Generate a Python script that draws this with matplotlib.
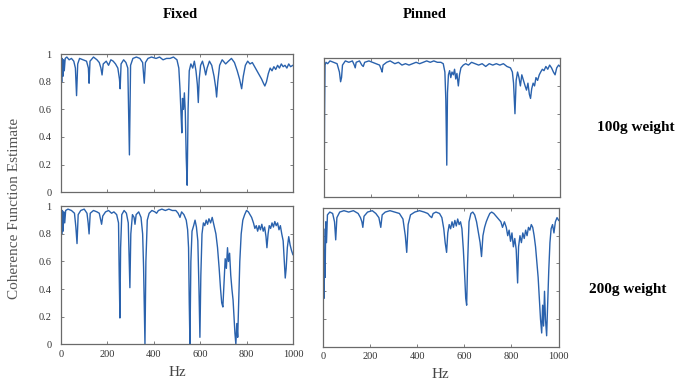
import matplotlib
matplotlib.use("Agg")
import matplotlib.pyplot as plt

plt.rcParams['font.family'] = ['Liberation Serif', 'DejaVu Serif']

# coherence estimates (frequency in Hz, coherence) for each support / load case
fixed_100_hz = [0, 3, 5, 8, 11, 14, 18, 25, 35, 45, 55, 62, 67, 72, 80, 95, 110, 118, 121, 125,
                140, 155, 165, 172, 177, 182, 195, 205, 215, 225, 235, 245, 252, 255, 259, 270,
                280, 288, 295, 300, 310, 325, 340, 352, 359, 364, 375, 390, 410, 425, 440, 455,
                470, 485, 500, 508, 513, 518, 521, 524, 528, 532, 536, 540, 544, 548, 553, 560,
                568, 575, 582, 588, 592, 596, 602, 610, 618, 624, 630, 640, 650, 660, 667, 671,
                676, 684, 695, 710, 722, 735, 748, 760, 770, 779, 786, 795, 805, 815, 825, 835,
                845, 855, 865, 873, 879, 886, 894, 902, 910, 918, 926, 934, 942, 950, 958, 966,
                974, 982, 990, 1000]
fixed_100_coh = [0.93, 0.80, 0.97, 0.84, 0.96, 0.88, 0.97, 0.98, 0.96, 0.97, 0.95, 0.90, 0.70, 0.93,
                 0.97, 0.96, 0.95, 0.90, 0.79, 0.95, 0.98, 0.96, 0.94, 0.90, 0.85, 0.93, 0.95, 0.92,
                 0.96, 0.95, 0.93, 0.90, 0.82, 0.75, 0.93, 0.96, 0.94, 0.90, 0.27, 0.92, 0.97, 0.98,
                 0.97, 0.94, 0.79, 0.94, 0.97, 0.98, 0.97, 0.98, 0.96, 0.97, 0.97, 0.98, 0.96, 0.90,
                 0.75, 0.55, 0.43, 0.68, 0.60, 0.72, 0.58, 0.25, 0.05, 0.60, 0.88, 0.93, 0.90, 0.95,
                 0.88, 0.78, 0.65, 0.82, 0.92, 0.95, 0.90, 0.85, 0.90, 0.95, 0.92, 0.84, 0.76, 0.69,
                 0.80, 0.92, 0.96, 0.93, 0.95, 0.97, 0.94, 0.88, 0.82, 0.75, 0.84, 0.92, 0.95, 0.93,
                 0.94, 0.91, 0.88, 0.85, 0.82, 0.79, 0.77, 0.80, 0.86, 0.90, 0.88, 0.91, 0.89, 0.92,
                 0.90, 0.93, 0.91, 0.92, 0.90, 0.93, 0.91, 0.92]

pinned_100_hz = [0, 2, 4, 8, 15, 25, 40, 55, 65, 70, 74, 78, 90, 105, 120, 128, 132, 136, 150, 160,
                 166, 172, 190, 205, 220, 235, 242, 246, 250, 265, 280, 300, 315, 330, 345, 360,
                 375, 390, 405, 420, 435, 450, 465, 480, 495, 505, 512, 516, 520, 523, 527, 532,
                 537, 542, 548, 553, 558, 563, 569, 574, 580, 590, 600, 612, 625, 640, 655, 670,
                 685, 700, 715, 730, 745, 760, 775, 790, 798, 803, 809, 814, 820, 826, 832, 838,
                 845, 852, 858, 864, 870, 875, 880, 886, 892, 898, 905, 912, 918, 925, 932, 940,
                 948, 956, 964, 972, 979, 986, 994, 1000]
pinned_100_coh = [0.02, 0.60, 0.95, 0.97, 0.96, 0.98, 0.97, 0.96, 0.90, 0.83, 0.86, 0.95, 0.98,
                  0.97, 0.98, 0.95, 0.93, 0.97, 0.98, 0.95, 0.94, 0.97, 0.98, 0.97, 0.96, 0.95,
                  0.92, 0.90, 0.95, 0.97, 0.98, 0.96, 0.97, 0.95, 0.96, 0.95, 0.96, 0.97, 0.96,
                  0.97, 0.98, 0.97, 0.98, 0.97, 0.97, 0.96, 0.90, 0.70, 0.23, 0.75, 0.88, 0.91,
                  0.86, 0.90, 0.88, 0.92, 0.85, 0.89, 0.80, 0.88, 0.93, 0.95, 0.96, 0.95, 0.97,
                  0.96, 0.95, 0.96, 0.94, 0.96, 0.95, 0.96, 0.95, 0.96, 0.94, 0.93, 0.90, 0.82,
                  0.60, 0.84, 0.90, 0.86, 0.80, 0.88, 0.84, 0.80, 0.77, 0.82, 0.74, 0.71, 0.78,
                  0.82, 0.80, 0.86, 0.84, 0.88, 0.90, 0.92, 0.91, 0.94, 0.92, 0.95, 0.93, 0.90,
                  0.88, 0.93, 0.95, 0.94]

fixed_200_hz = [0, 3, 6, 9, 12, 16, 20, 30, 45, 58, 64, 69, 74, 85, 100, 112, 117, 121, 126, 140,
                155, 165, 171, 175, 180, 192, 205, 218, 228, 240, 248, 251, 254, 257, 262, 272,
                282, 290, 294, 297, 301, 308, 315, 319, 324, 335, 345, 352, 356, 360, 362, 366,
                372, 380, 392, 405, 412, 420, 435, 450, 465, 480, 495, 505, 513, 520, 530, 540,
                546, 550, 553, 556, 560, 565, 572, 578, 584, 590, 595, 599, 603, 608, 614, 620,
                626, 632, 638, 645, 652, 660, 668, 675, 682, 688, 693, 698, 703, 708, 713, 718,
                722, 727, 732, 737, 742, 746, 750, 754, 758, 762, 766, 771, 777, 784, 792, 800,
                808, 815, 822, 830, 836, 842, 848, 854, 860, 866, 872, 878, 884, 888, 893, 898,
                904, 910, 916, 922, 928, 934, 940, 946, 952, 958, 963, 967, 971, 976, 982, 988,
                994, 1000]
fixed_200_coh = [0.95, 0.80, 0.97, 0.82, 0.96, 0.88, 0.97, 0.98, 0.97, 0.95, 0.85, 0.73, 0.94,
                 0.97, 0.98, 0.95, 0.88, 0.80, 0.95, 0.97, 0.96, 0.95, 0.90, 0.87, 0.93, 0.96,
                 0.97, 0.95, 0.96, 0.94, 0.88, 0.50, 0.19, 0.70, 0.94, 0.97, 0.95, 0.88, 0.60,
                 0.41, 0.80, 0.94, 0.92, 0.87, 0.94, 0.96, 0.92, 0.80, 0.56, 0.20, 0.00, 0.60,
                 0.90, 0.95, 0.97, 0.96, 0.95, 0.97, 0.98, 0.97, 0.98, 0.97, 0.97, 0.95, 0.92,
                 0.96, 0.94, 0.90, 0.83, 0.70, 0.30, 0.00, 0.60, 0.82, 0.86, 0.90, 0.85, 0.75,
                 0.40, 0.05, 0.50, 0.80, 0.88, 0.86, 0.90, 0.87, 0.91, 0.88, 0.92, 0.86, 0.80,
                 0.70, 0.55, 0.40, 0.30, 0.27, 0.45, 0.62, 0.55, 0.70, 0.60, 0.66, 0.50, 0.40,
                 0.32, 0.20, 0.08, 0.00, 0.15, 0.05, 0.30, 0.60, 0.80, 0.90, 0.94, 0.97, 0.96,
                 0.94, 0.92, 0.88, 0.84, 0.86, 0.82, 0.86, 0.83, 0.87, 0.82, 0.85, 0.78, 0.70,
                 0.80, 0.86, 0.84, 0.88, 0.85, 0.89, 0.86, 0.88, 0.83, 0.86, 0.80, 0.75, 0.60,
                 0.48, 0.55, 0.70, 0.78, 0.72, 0.68, 0.65]

pinned_200_hz = [0, 2, 4, 6, 8, 10, 13, 16, 20, 30, 42, 50, 55, 60, 72, 90, 110, 130, 150, 160,
                 166, 170, 175, 190, 210, 225, 238, 246, 252, 265, 285, 305, 325, 340, 350, 356,
                 362, 372, 390, 410, 430, 445, 455, 462, 468, 480, 495, 505, 513, 519, 525, 530,
                 536, 542, 548, 554, 560, 566, 572, 578, 584, 590, 596, 602, 606, 610, 614, 620,
                 628, 636, 644, 652, 660, 667, 673, 679, 686, 693, 700, 708, 716, 725, 735, 745,
                 755, 762, 770, 778, 784, 790, 796, 802, 808, 814, 820, 826, 830, 836, 842, 848,
                 854, 860, 866, 872, 878, 884, 890, 896, 902, 908, 913, 918, 923, 928, 932, 936,
                 940, 944, 949, 953, 958, 963, 968, 974, 980, 986, 993, 1000]
pinned_200_coh = [0.90, 0.40, 0.85, 0.35, 0.70, 0.50, 0.90, 0.75, 0.95, 0.97, 0.96, 0.90, 0.77,
                  0.93, 0.97, 0.98, 0.97, 0.98, 0.96, 0.93, 0.90, 0.86, 0.94, 0.97, 0.98, 0.96,
                  0.93, 0.86, 0.95, 0.97, 0.98, 0.97, 0.96, 0.92, 0.80, 0.68, 0.88, 0.95, 0.97,
                  0.98, 0.97, 0.96, 0.94, 0.93, 0.96, 0.97, 0.96, 0.93, 0.85, 0.75, 0.68, 0.82,
                  0.88, 0.85, 0.90, 0.86, 0.91, 0.87, 0.92, 0.88, 0.90, 0.85, 0.70, 0.50, 0.35,
                  0.30, 0.60, 0.90, 0.96, 0.97, 0.95, 0.90, 0.82, 0.75, 0.65, 0.80, 0.86, 0.90,
                  0.93, 0.96, 0.97, 0.96, 0.94, 0.92, 0.90, 0.86, 0.90, 0.86, 0.80, 0.84, 0.76,
                  0.82, 0.72, 0.78, 0.70, 0.46, 0.72, 0.80, 0.75, 0.82, 0.78, 0.84, 0.80, 0.86,
                  0.84, 0.88, 0.86, 0.80, 0.72, 0.60, 0.50, 0.35, 0.20, 0.10, 0.30, 0.15, 0.40,
                  0.20, 0.08, 0.30, 0.55, 0.75, 0.85, 0.88, 0.82, 0.90, 0.93, 0.91]

column_titles = ["Fixed", "Pinned"]
row_titles = ["100g weight", "200g weight"]
x_ticks = [0, 200, 400, 600, 800, 1000]
y_ticks = [0, 0.2, 0.4, 0.6, 0.8, 1]
y_ticklabels = ["0", "0.2", "0.4", "0.6", "0.8", "1"]

line_color = "#2a62ad"
frame_color = "#6a6a6a"

fig = plt.figure(figsize=(6.78, 3.85), dpi=100)

# [left, bottom, width, height] for each panel
panels = [
    ([0.090, 0.501, 0.342, 0.358], fixed_100_hz, fixed_100_coh, 0, 0),
    ([0.478, 0.488, 0.348, 0.361], pinned_100_hz, pinned_100_coh, 0, 1),
    ([0.090, 0.106, 0.342, 0.358], fixed_200_hz, fixed_200_coh, 1, 0),
    ([0.476, 0.099, 0.348, 0.361], pinned_200_hz, pinned_200_coh, 1, 1),
]

for rect, hz, coh, row, col in panels:
    ax = fig.add_axes(rect)
    ax.plot(hz, coh, color=line_color, lw=1.0)
    ax.set_xlim(0, 1000)
    ax.set_ylim(0, 1)
    ax.set_xticks(x_ticks)
    ax.set_yticks(y_ticks)
    ax.tick_params(direction="in", length=2.5, width=0.6, colors=frame_color,
                   labelcolor="#333333", labelsize=7.5, top=True, right=True)
    ax.tick_params(axis="y", pad=7)
    ax.tick_params(axis="x", pad=4)
    for s in ax.spines.values():
        s.set_color(frame_color)
        s.set_linewidth(0.9)
    if col == 0:
        ax.set_yticklabels(y_ticklabels)
    else:
        ax.set_yticklabels([])
    if row == 1:
        ax.set_xticklabels([str(t) for t in x_ticks])
        ax.set_xlabel("Hz", fontsize=11, color="#444444", labelpad=5)
    else:
        ax.set_xticklabels([])

fig.text(180 / 678, 1 - 15 / 385, column_titles[0], ha="center", va="center",
         fontsize=10.5, fontweight="bold")
fig.text(425 / 678, 1 - 15 / 385, column_titles[1], ha="center", va="center",
         fontsize=10.5, fontweight="bold")
fig.text(636 / 678, 1 - 128 / 385, row_titles[0], ha="center", va="center",
         fontsize=11, fontweight="bold")
fig.text(628 / 678, 1 - 290 / 385, row_titles[1], ha="center", va="center",
         fontsize=11, fontweight="bold")
fig.text(15 / 678, 1 - 208 / 385, "Coherence Function Estimate", rotation=90,
         ha="center", va="center", fontsize=11, color="#555555")

fig.savefig("out.png", dpi=100)
